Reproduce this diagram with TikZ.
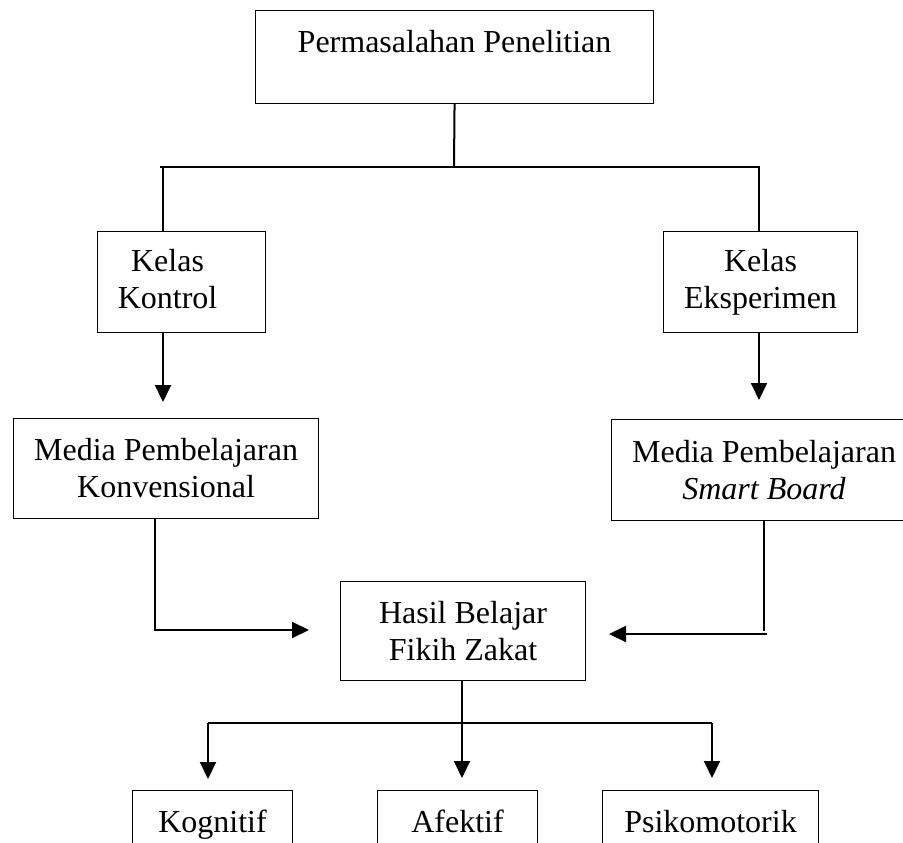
\documentclass[tikz,border=0pt]{standalone}
\usepackage{fontspec}
\setmainfont{Liberation Serif}
\usetikzlibrary{arrows.meta}
\begin{document}
\begin{tikzpicture}[x=1pt,y=-1pt,
  box/.style={draw=black,line width=1.1pt,inner sep=0pt,align=center,anchor=north west,
              font=\fontsize{32}{37}\selectfont},
  conn/.style={line width=2pt},
  arr/.style={conn,-{Triangle[length=17pt,width=16pt]}}]
\useasboundingbox (0,0) rectangle (903,843);
% boxes
\node[box,minimum width=398pt,text height=42pt,text depth=51pt] (top) at (255,10) {Permasalahan Penelitian};
\node[box,minimum width=168pt,minimum height=101pt] (kk) at (97,231) {\hspace*{-28pt}Kelas\\\hspace*{-28pt}Kontrol\vphantom{p}};
\node[box,minimum width=194pt,minimum height=101pt] (ke) at (663,231) {Kelas\\Eksperimen};
\node[box,minimum width=305pt,minimum height=100pt] (mk) at (13,418) {Media Pembelajaran\\Konvensional};
\node[box,minimum width=305pt,minimum height=101pt] (ms) at (611,419) {Media Pembelajaran\\\textit{Smart Board}};
\node[box,minimum width=245pt,minimum height=99pt] (hs) at (340,581) {Hasil Belajar\\Fikih Zakat};
\node[box,minimum width=160pt,text height=42pt,text depth=58pt] (kg) at (132,790) {Kognitif};
\node[box,minimum width=160pt,text height=42pt,text depth=58pt] (af) at (377,790) {Afektif};
\node[box,minimum width=216pt,text height=42pt,text depth=58pt] (ps) at (602,790) {Psikomotorik};
% junction points
\coordinate (j1) at (454,167);
\coordinate (bL) at (160,167);
\coordinate (bR) at (760,167);
\coordinate (kkj) at (163,167);
\coordinate (kej) at (759,167);
\coordinate (mkt) at (163,402);
\coordinate (mst) at (759,400);
\coordinate (mkc) at (155,630);
\coordinate (hL) at (309,630);
\coordinate (msc) at (764,631);
\coordinate (msc2) at (767,634);
\coordinate (hR) at (609,634);
\coordinate (b2L) at (208,723);
\coordinate (b2M) at (462,723);
\coordinate (b2R) at (712,723);
\coordinate (kgt) at (208,779);
\coordinate (aft) at (462,778);
\coordinate (pst) at (712,778);
% connectors
\draw[conn] (top.south) -- (j1);
\draw[conn] (bL) -- (bR);
\draw[conn] (kkj) -- (kkj |- kk.north);
\draw[conn] (kej) -- (kej |- ke.north);
\draw[arr] (mkt |- kk.south) -- (mkt);
\draw[arr] (mst |- ke.south) -- (mst);
\draw[arr] (mkc |- mk.south) -- (mkc) -- (hL);
\draw[conn] (msc |- ms.south) -- (msc);
\draw[arr] (msc2) -- (hR);
\draw[conn] (b2M |- hs.south) -- (b2M);
\draw[conn] (b2L) -- (b2R);
\draw[arr] (b2L) -- (kgt);
\draw[arr] (b2M) -- (aft);
\draw[arr] (b2R) -- (pst);
\end{tikzpicture}
\end{document}
